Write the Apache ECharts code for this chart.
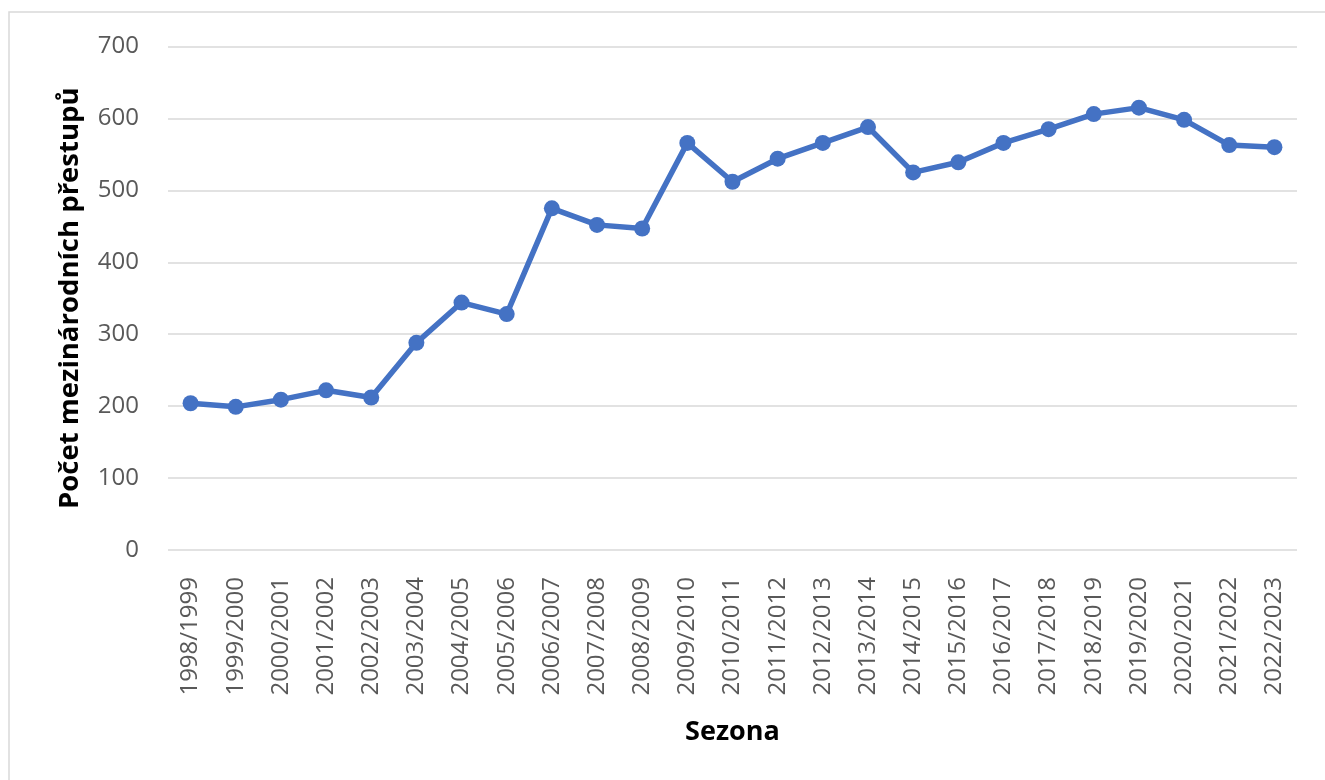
<!DOCTYPE html>
<html>
<head>
<meta charset="utf-8">
<title>Počet mezinárodních přestupů</title>
<script src="https://cdn.jsdelivr.net/npm/echarts@6/dist/echarts.min.js"></script>
<style>
  html, body { margin: 0; padding: 0; background: #fff; }
  #chart { width: 1325px; height: 780px; }
</style>
</head>
<body>
<div id="chart"></div>
<script>
const seasons = [
  '1998/1999', '1999/2000', '2000/2001', '2001/2002', '2002/2003',
  '2003/2004', '2004/2005', '2005/2006', '2006/2007', '2007/2008',
  '2008/2009', '2009/2010', '2010/2011', '2011/2012', '2012/2013',
  '2013/2014', '2014/2015', '2015/2016', '2016/2017', '2017/2018',
  '2018/2019', '2019/2020', '2020/2021', '2021/2022', '2022/2023'
]
const transfers = [
  204, 199, 209, 222, 212,
  288, 344, 328, 475, 452,
  447, 566, 512, 544, 566,
  588, 525, 539, 566, 585,
  606, 615, 598, 563, 560
]
const yTicks = [0, 100, 200, 300, 400, 500, 600, 700]

const chart = echarts.init(document.getElementById('chart'))

chart.setOption({
  backgroundColor: '#ffffff',
  animation: false,
  textStyle: { fontFamily: 'Open Sans' },
  graphic: [
    {
      type: 'rect',
      shape: { x: 9, y: 12, width: 1330, height: 790 },
      style: { fill: 'none', stroke: '#d9d9d9', lineWidth: 1.5 },
      silent: true
    }
  ],
  grid: {
    left: 168,
    top: 46.5,
    width: 1129,
    height: 503.5,
    containLabel: false
  },
  xAxis: {
    type: 'category',
    data: seasons,
    boundaryGap: true,
    name: 'Sezona',
    nameLocation: 'middle',
    nameGap: 169,
    nameTextStyle: { color: '#000', fontSize: 27, fontWeight: 'bold', fontFamily: 'Open Sans' },
    axisLine: { show: false },
    axisTick: { show: false },
    axisLabel: {
      rotate: 90,
      interval: 0,
      margin: 27,
      color: '#595959',
      fontSize: 24,
      fontFamily: 'Open Sans'
    },
    splitLine: { show: false }
  },
  yAxis: {
    type: 'value',
    min: yTicks[0],
    max: yTicks[yTicks.length - 1],
    interval: 100,
    name: 'Počet mezinárodních přestupů',
    nameLocation: 'middle',
    nameGap: 84,
    nameRotate: 90,
    nameTextStyle: { color: '#000', fontSize: 27.5, fontWeight: 'bold', fontFamily: 'Open Sans' },
    axisLine: { show: false },
    axisTick: { show: false },
    axisLabel: {
      margin: 29,
      color: '#595959',
      fontSize: 24,
      fontFamily: 'Open Sans'
    },
    splitLine: { lineStyle: { color: '#d9d9d9', width: 1.5 } }
  },
  series: [
    {
      name: 'Počet mezinárodních přestupů',
      type: 'line',
      data: transfers,
      symbol: 'circle',
      symbolSize: 16,
      lineStyle: { color: '#4472C4', width: 5.5 },
      itemStyle: { color: '#4472C4' }
    }
  ]
})
</script>
</body>
</html>
